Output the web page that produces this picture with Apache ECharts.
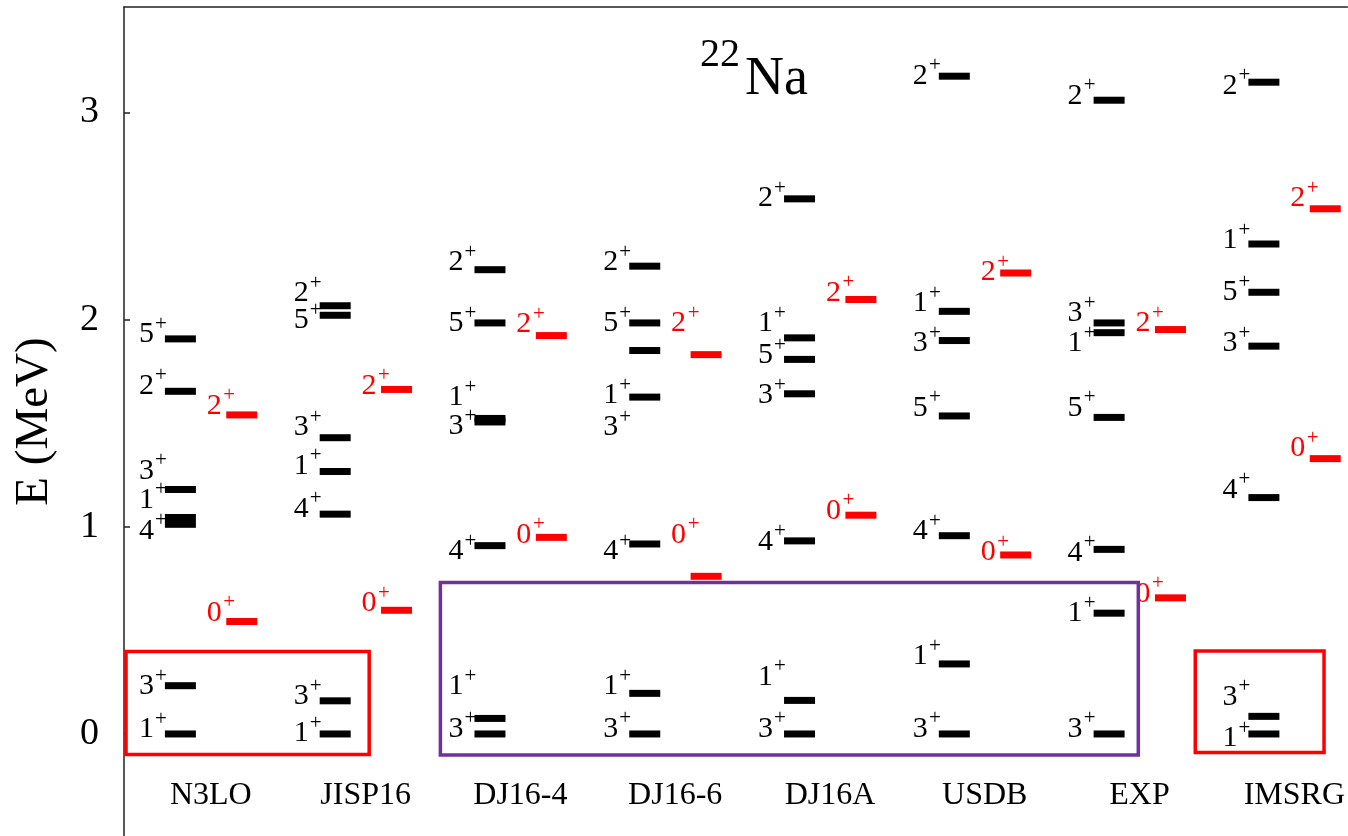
<!DOCTYPE html>
<html>
<head>
<meta charset="utf-8">
<script src="https://cdn.jsdelivr.net/npm/echarts@6/dist/echarts.min.js"></script>
<style>
html,body{margin:0;padding:0;background:#fff;}
#main{width:1348px;height:836px;}
</style>
</head>
<body>
<div id="main"></div>
<script>
// ---- data ----
const categories = ['N3LO', 'JISP16', 'DJ16-4', 'DJ16-6', 'DJ16A', 'USDB', 'EXP', 'IMSRG'];
const yTicks = [0, 1, 2, 3];

// black levels: [model, spin J (+ parity), energy MeV, label energy MeV]
const blackLevels = [
  ['N3LO', 5, 1.907, 1.934], ['N3LO', 2, 1.654, 1.686], ['N3LO', 3, 1.180, 1.275],
  ['N3LO', 1, 1.045, 1.135], ['N3LO', 4, 1.012, 0.986], ['N3LO', 3, 0.233, 0.236],
  ['N3LO', 1, 0.000, 0.027],
  ['JISP16', 2, 2.067, 2.131], ['JISP16', 5, 2.021, 2.002], ['JISP16', 3, 1.430, 1.484],
  ['JISP16', 1, 1.267, 1.300], ['JISP16', 4, 1.061, 1.092], ['JISP16', 3, 0.160, 0.186],
  ['JISP16', 1, 0.000, 0.008],
  ['DJ16-4', 2, 2.241, 2.281], ['DJ16-4', 5, 1.984, 1.987], ['DJ16-4', 1, 1.523, 1.631],
  ['DJ16-4', 3, 1.506, 1.489], ['DJ16-4', 4, 0.909, 0.885], ['DJ16-4', 1, 0.075, 0.235],
  ['DJ16-4', 3, 0.000, 0.030],
  ['DJ16-6', 2, 2.258, 2.281], ['DJ16-6', 5, 1.984, 1.987], ['DJ16-6', 3, 1.851, 1.484],
  ['DJ16-6', 1, 1.626, 1.640], ['DJ16-6', 4, 0.917, 0.885], ['DJ16-6', 1, 0.196, 0.235],
  ['DJ16-6', 3, 0.000, 0.030],
  ['DJ16A', 2, 2.583, 2.589], ['DJ16A', 1, 1.912, 1.987], ['DJ16A', 5, 1.808, 1.833],
  ['DJ16A', 3, 1.642, 1.641], ['DJ16A', 4, 0.932, 0.933], ['DJ16A', 1, 0.162, 0.280],
  ['DJ16A', 3, 0.000, 0.030],
  ['USDB', 2, 3.175, 3.181], ['USDB', 1, 2.040, 2.084], ['USDB', 3, 1.899, 1.891],
  ['USDB', 5, 1.535, 1.580], ['USDB', 4, 0.957, 0.982], ['USDB', 1, 0.338, 0.379],
  ['USDB', 3, 0.000, 0.030],
  ['EXP', 2, 3.059, 3.085], ['EXP', 3, 1.984, 2.035], ['EXP', 1, 1.937, 1.891],
  ['EXP', 5, 1.528, 1.580], ['EXP', 4, 0.891, 0.880], ['EXP', 1, 0.583, 0.586],
  ['EXP', 3, 0.000, 0.030],
  ['IMSRG', 2, 3.146, 3.133], ['IMSRG', 1, 2.365, 2.387], ['IMSRG', 5, 2.132, 2.137],
  ['IMSRG', 3, 1.872, 1.891], ['IMSRG', 4, 1.141, 1.183], ['IMSRG', 3, 0.085, 0.184],
  ['IMSRG', 1, 0.000, -0.016]
];

// red levels: [model, spin, energy MeV, label energy MeV]
const redLevels = [
  ['N3LO', 2, 1.540, 1.588], ['N3LO', 0, 0.543, 0.590],
  ['JISP16', 2, 1.663, 1.686], ['JISP16', 0, 0.597, 0.634],
  ['DJ16-4', 2, 1.923, 1.982], ['DJ16-4', 0, 0.949, 0.966],
  ['DJ16-6', 2, 1.831, 1.987], ['DJ16-6', 0, 0.761, 0.966],
  ['DJ16A', 2, 2.097, 2.134], ['DJ16A', 0, 1.056, 1.082],
  ['USDB', 2, 2.225, 2.233], ['USDB', 0, 0.864, 0.882],
  ['EXP', 2, 1.952, 1.987], ['EXP', 0, 0.657, 0.682],
  ['IMSRG', 2, 2.535, 2.589], ['IMSRG', 0, 1.329, 1.385]
];

// highlight boxes: [x from (category units), x to, E from, E to]
const redBoxes = [[-0.548, 1.023, -0.099, 0.398], [6.36, 7.192, -0.09, 0.40]];
const purpleBoxes = [[1.483, 5.992, -0.101, 0.731]];

// ---- chart ----
const FONT = '"Liberation Serif", "Times New Roman", serif';
const chart = echarts.init(document.getElementById('main'), null, {renderer: 'canvas'});

function toData(levels) {
  return levels.map(d => [categories.indexOf(d[0]), d[1], d[2], d[3]]);
}

function levelRenderer(offset, color, digitDx, plusDx) {
  return function (params, api) {
    const cat = api.value(0), spin = api.value(1), E = api.value(2), lE = api.value(3);
    const c = api.coord([cat + offset, E]);
    const l = api.coord([cat + offset, lE]);
    const barW = 31, barH = 7;
    const left = c[0] - barW / 2;
    return {
      type: 'group',
      children: [
        {type: 'rect', shape: {x: left, y: c[1] - barH / 2, width: barW, height: barH}, style: {fill: color}},
        {type: 'text', style: {text: String(spin), x: left + digitDx, y: l[1] + 1, align: 'right', verticalAlign: 'middle',
          fontSize: 30, fontFamily: FONT, fill: color}},
        {type: 'text', style: {text: '+', x: left + plusDx, y: l[1] - 9, align: 'center', verticalAlign: 'middle',
          fontSize: 21, fontFamily: FONT, fill: color}}
      ]
    };
  };
}

function boxRenderer(color) {
  return function (params, api) {
    const p0 = api.coord([api.value(0), api.value(3)]);
    const p1 = api.coord([api.value(1), api.value(2)]);
    return {
      type: 'rect',
      shape: {x: p0[0], y: p0[1], width: p1[0] - p0[0], height: p1[1] - p0[1]},
      style: {fill: '#fff', stroke: color, lineWidth: 3.5}
    };
  };
}

const option = {
  backgroundColor: '#fff',
  animation: false,
  grid: {left: 124, top: 7, right: -2, height: 831},
  xAxis: [{
    type: 'value', min: -0.561, max: 7.342, position: 'bottom',
    axisLine: {show: false}, axisTick: {show: false}, splitLine: {show: false},
    axisLabel: {
      customValues: categories.map((c, i) => i),
      formatter: v => categories[Math.round(v)] || '',
      inside: true, margin: 40, verticalAlign: 'middle',
      fontSize: 32, fontFamily: FONT, color: '#000'
    }
  }, {
    type: 'value', min: -0.561, max: 7.342, position: 'top',
    axisLine: {show: true, onZero: false, lineStyle: {color: '#222', width: 1.5}},
    axisTick: {show: false}, axisLabel: {show: false}, splitLine: {show: false}
  }],
  yAxis: {
    type: 'value', min: -0.4925, max: 3.509,
    name: 'E (MeV)', nameLocation: 'middle', nameGap: 66, nameRotate: 90,
    nameTextStyle: {fontSize: 47, fontFamily: FONT, color: '#000'},
    axisLine: {show: true, onZero: false, lineStyle: {color: '#222', width: 1.5}},
    axisTick: {show: true, inside: true, length: 6, customValues: yTicks, lineStyle: {color: '#222', width: 1.5}},
    axisLabel: {customValues: yTicks, margin: 25, fontSize: 38, fontFamily: FONT, color: '#000', padding: [6, 0, 0, 0]},
    splitLine: {show: false}
  },
  graphic: [
    {type: 'text', left: 700, top: 35, style: {text: '22', fontSize: 40, fontFamily: FONT, fill: '#000'}},
    {type: 'text', left: 745, top: 53, style: {text: 'Na', fontSize: 54, fontFamily: FONT, fill: '#000'}}
  ],
  series: [
    {type: 'custom', z: 2, renderItem: levelRenderer(0.1998, '#ff0000', -4.5, 3), data: toData(redLevels), silent: true},
    {type: 'custom', z: 3, renderItem: boxRenderer('#ff0000'), data: redBoxes, silent: true},
    {type: 'custom', z: 3, renderItem: boxRenderer('#7030a0'), data: purpleBoxes, silent: true},
    {type: 'custom', z: 4, renderItem: levelRenderer(-0.1966, '#000000', -11, -4), data: toData(blackLevels), silent: true}
  ]
};
chart.setOption(option);
</script>
</body>
</html>
